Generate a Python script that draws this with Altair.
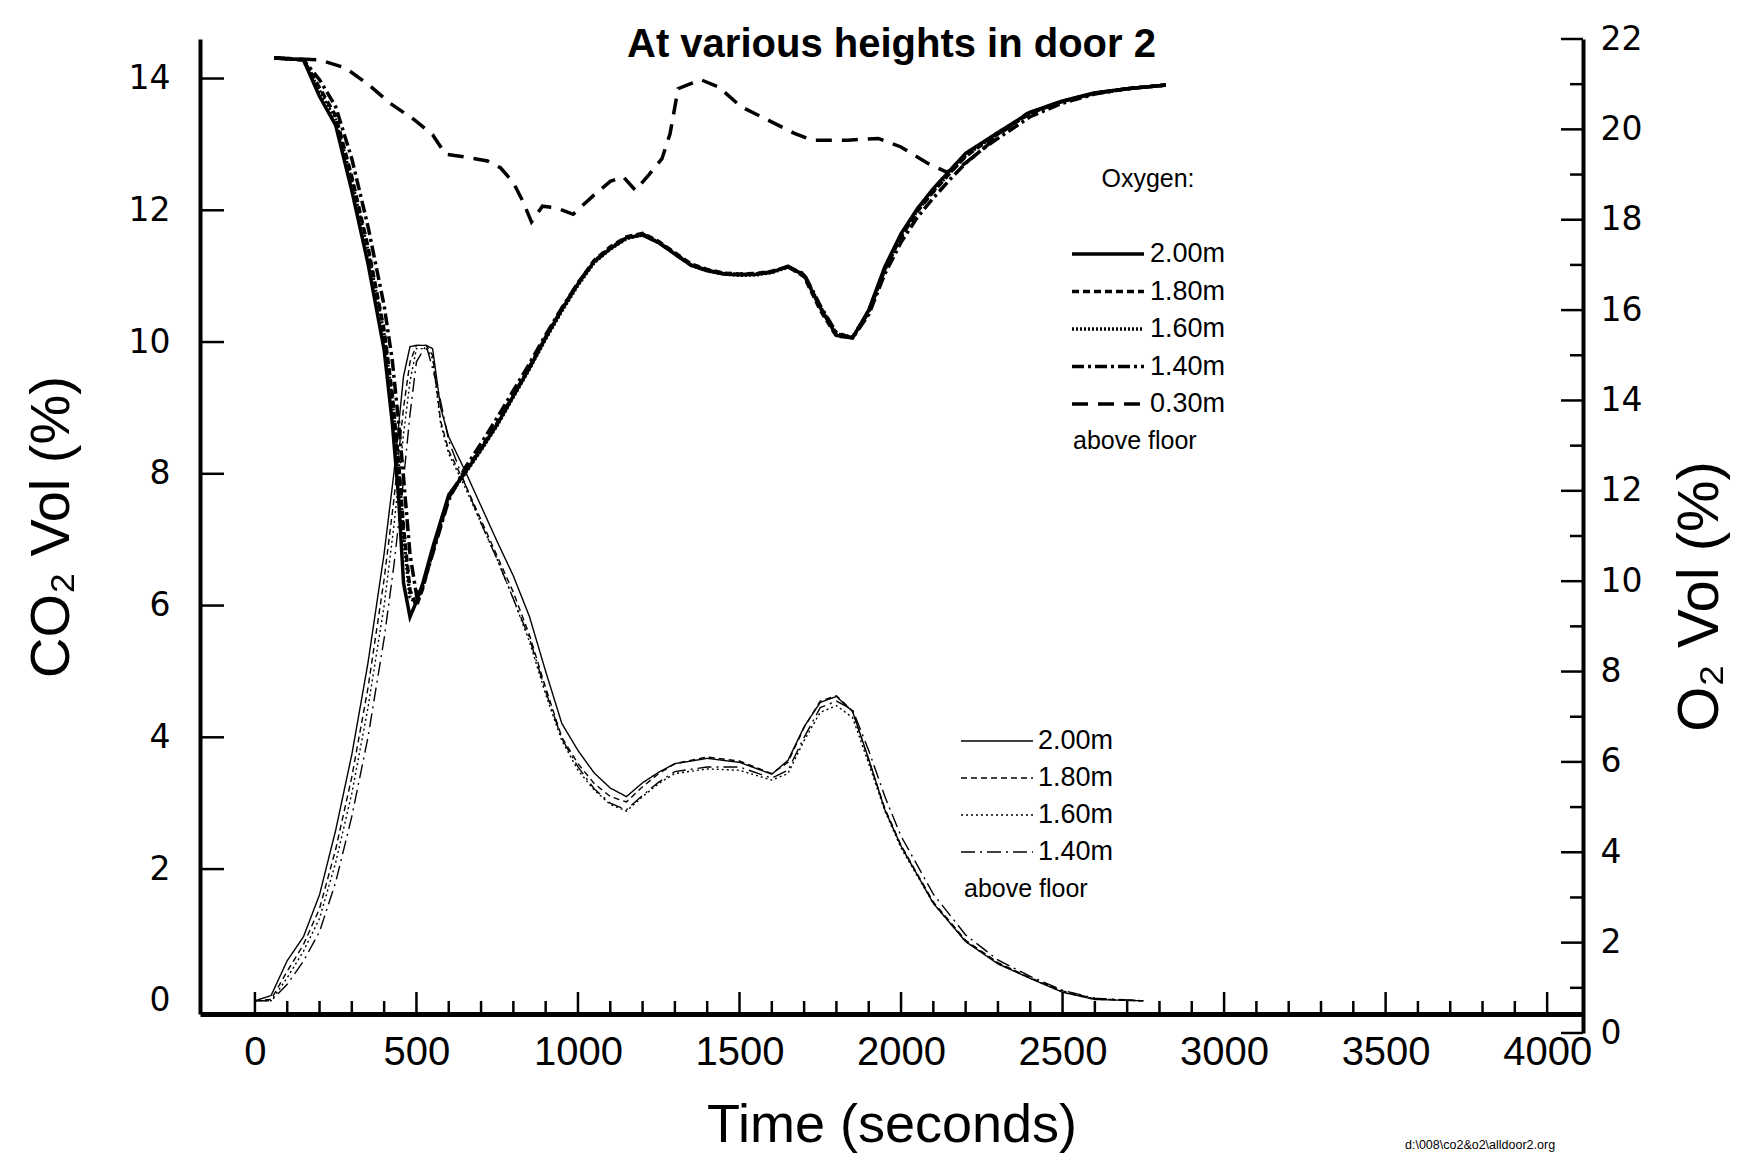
import altair as alt
import pandas as pd

# ---------------- data ----------------
# Oxygen, common time grid for the four upper heights (seconds)
o2_t = [60, 150, 200, 250, 300, 350, 400, 425, 445, 460, 480, 500, 520, 550,
        600, 650, 700, 750, 800, 850, 900, 950, 1000, 1050, 1100, 1150, 1200,
        1250, 1300, 1350, 1400, 1450, 1500, 1550, 1600, 1650, 1700, 1750, 1800,
        1850, 1900, 1950, 2000, 2050, 2100, 2150, 2200, 2250, 2300, 2400, 2500,
        2600, 2700, 2820]
o2_200 = [21.58, 21.54, 20.73, 20.09, 18.64, 17.03, 15.12, 13.52, 11.83, 9.96,
          9.21, 9.55, 9.96, 10.74, 11.91, 12.40, 12.92, 13.47, 14.10, 14.72,
          15.39, 16.01, 16.58, 17.07, 17.36, 17.60, 17.66, 17.49, 17.24, 16.99,
          16.87, 16.80, 16.78, 16.79, 16.84, 16.97, 16.77, 16.05, 15.44, 15.38,
          16.00, 16.96, 17.69, 18.24, 18.69, 19.08, 19.47, 19.70, 19.93, 20.38,
          20.63, 20.81, 20.90, 20.98]
o2_180 = [21.58, 21.54, 20.92, 20.30, 18.95, 17.40, 15.55, 14.15, 12.60, 11.20,
          9.80, 9.45, 9.85, 10.65, 11.85, 12.42, 12.95, 13.50, 14.12, 14.75,
          15.40, 16.02, 16.60, 17.10, 17.40, 17.62, 17.70, 17.52, 17.27, 17.02,
          16.90, 16.82, 16.80, 16.81, 16.86, 16.96, 16.74, 16.00, 15.42, 15.40,
          15.95, 16.90, 17.62, 18.18, 18.62, 19.02, 19.40, 19.66, 19.90, 20.36,
          20.62, 20.80, 20.90, 20.98]
o2_160 = [21.58, 21.54, 20.85, 20.20, 18.85, 17.30, 15.45, 14.00, 12.50, 11.00,
          9.65, 9.50, 9.90, 10.70, 11.88, 12.38, 12.90, 13.45, 14.08, 14.70,
          15.36, 15.98, 16.55, 17.05, 17.35, 17.58, 17.68, 17.50, 17.25, 17.00,
          16.88, 16.80, 16.77, 16.78, 16.83, 16.95, 16.78, 16.08, 15.47, 15.40,
          15.98, 16.92, 17.64, 18.20, 18.64, 19.03, 19.42, 19.67, 19.90, 20.36,
          20.62, 20.80, 20.90, 20.98]
o2_140 = [21.58, 21.54, 21.10, 20.50, 19.35, 17.85, 16.10, 14.90, 13.50, 12.30,
          10.60, 9.70, 9.90, 10.60, 11.80, 12.50, 13.05, 13.62, 14.22, 14.82,
          15.45, 16.05, 16.60, 17.08, 17.38, 17.60, 17.68, 17.50, 17.24, 17.00,
          16.88, 16.81, 16.79, 16.80, 16.85, 16.96, 16.80, 16.10, 15.50, 15.38,
          15.90, 16.80, 17.50, 18.05, 18.48, 18.88, 19.25, 19.55, 19.80, 20.28,
          20.58, 20.78, 20.90, 20.98]
# Oxygen 0.30 m above floor (own time base)
o2_030_t = [60, 200, 280, 350, 420, 490, 550, 590, 640, 720, 760, 800, 830, 856,
            890, 935, 985, 1050, 1100, 1140, 1178, 1220, 1260, 1285, 1310, 1345,
            1380, 1435, 1505, 1590, 1670, 1725, 1835, 1930, 2000, 2085, 2140,
            2180, 2250, 2320, 2390, 2500, 2600, 2700, 2820]
o2_030 = [21.58, 21.54, 21.36, 21.00, 20.57, 20.23, 19.88, 19.45, 19.40, 19.30,
          19.15, 18.82, 18.40, 17.95, 18.30, 18.26, 18.12, 18.55, 18.85, 18.95,
          18.65, 19.00, 19.35, 19.90, 20.90, 21.00, 21.10, 20.94, 20.50, 20.20,
          19.91, 19.76, 19.76, 19.80, 19.61, 19.24, 19.06, 19.15, 19.54, 19.98,
          20.35, 20.62, 20.80, 20.90, 20.98]

# Carbon dioxide, common time grid (seconds)
co2_t = [0, 50, 100, 150, 200, 250, 300, 350, 400, 430, 460, 480, 500, 530, 550,
         575, 600, 650, 700, 750, 800, 850, 900, 950, 1000, 1050, 1100, 1150,
         1200, 1250, 1300, 1400, 1500, 1600, 1650, 1700, 1750, 1800, 1850, 1900,
         1950, 2000, 2100, 2200, 2300, 2400, 2500, 2600, 2750]
co2_200 = [0, 0.08, 0.61, 0.97, 1.61, 2.59, 3.74, 5.13, 6.79, 8.00, 9.48, 9.93,
           9.95, 9.95, 9.90, 9.00, 8.56, 8.05, 7.51, 6.97, 6.45, 5.83, 5.00, 4.21,
           3.80, 3.46, 3.23, 3.10, 3.31, 3.47, 3.60, 3.68, 3.62, 3.44, 3.65, 4.16,
           4.53, 4.62, 4.39, 3.67, 2.90, 2.35, 1.48, 0.90, 0.56, 0.34, 0.13, 0.02, 0]
co2_180 = [0, 0.02, 0.45, 0.85, 1.40, 2.30, 3.40, 4.75, 6.40, 7.60, 9.00, 9.70,
           9.95, 9.95, 9.80, 8.80, 8.35, 7.85, 7.30, 6.75, 6.20, 5.55, 4.75, 4.00,
           3.60, 3.30, 3.10, 3.02, 3.25, 3.45, 3.60, 3.70, 3.64, 3.45, 3.62, 4.15,
           4.55, 4.63, 4.40, 3.65, 2.92, 2.36, 1.50, 0.92, 0.58, 0.35, 0.15, 0.03, 0]
co2_160 = [0, 0, 0.35, 0.75, 1.25, 2.10, 3.15, 4.45, 6.00, 7.20, 8.60, 9.40,
           9.90, 9.90, 9.75, 8.75, 8.30, 7.80, 7.25, 6.70, 6.10, 5.45, 4.65, 3.95,
           3.50, 3.20, 2.98, 2.88, 3.10, 3.30, 3.45, 3.52, 3.50, 3.35, 3.45, 3.95,
           4.38, 4.48, 4.30, 3.60, 2.88, 2.32, 1.48, 0.90, 0.57, 0.34, 0.14, 0.03, 0]
co2_140 = [0, 0, 0.25, 0.60, 1.05, 1.80, 2.80, 4.00, 5.50, 6.60, 7.90, 8.90,
           9.70, 9.95, 9.60, 9.10, 8.50, 7.85, 7.25, 6.70, 6.10, 5.50, 4.70, 3.98,
           3.55, 3.22, 3.00, 2.90, 3.12, 3.32, 3.48, 3.55, 3.55, 3.38, 3.50, 4.00,
           4.45, 4.55, 4.42, 3.80, 3.10, 2.50, 1.62, 1.00, 0.62, 0.37, 0.16, 0.04, 0]

o2_series = ["2.00m", "1.80m", "1.60m", "1.40m", "0.30m"]
co2_series = ["2.00m", "1.80m", "1.60m", "1.40m"]

x_major_ticks = [0, 500, 1000, 1500, 2000, 2500, 3000, 3500, 4000]
x_minor_ticks = [t for t in range(100, 4000, 100) if t % 500 != 0]
o2_major_ticks = [0, 2, 4, 6, 8, 10, 12, 14, 16, 18, 20, 22]
o2_minor_ticks = [1, 3, 5, 7, 9, 11, 13, 15, 17, 19, 21]
co2_ticks = [2, 4, 6, 8, 10, 12, 14]
co2_labels = [0, 2, 4, 6, 8, 10, 12, 14]

title_text = "At various heights in door 2"
note_text = "d:\\008\\co2&o2\\alldoor2.org"
floor_text = "above floor"

# ---------------- tables ----------------
o2_df = pd.concat(
    [pd.DataFrame({"t": o2_t, "v": vals, "series": name})
     for name, vals in zip(o2_series[:4], [o2_200, o2_180, o2_160, o2_140])]
    + [pd.DataFrame({"t": o2_030_t, "v": o2_030, "series": o2_series[4]})],
    ignore_index=True)
co2_df = pd.concat(
    [pd.DataFrame({"t": co2_t, "v": vals, "series": name})
     for name, vals in zip(co2_series, [co2_200, co2_180, co2_160, co2_140])],
    ignore_index=True)

W, H = 1383, 975
FONT = "Liberation Sans"
NUMFONT = "DejaVu Sans"

x_enc = alt.X(
    "t:Q",
    scale=alt.Scale(domain=[-170, 4111], nice=False, zero=False),
    axis=alt.Axis(values=x_major_ticks, format="d", title="Time (seconds)",
                  titleFont=FONT, titleFontSize=54, titleFontWeight="normal",
                  titleColor="black", titlePadding=26,
                  labelFont=FONT, labelFontSize=40, labelColor="black",
                  labelPadding=18, ticks=False, tickSize=0,
                  domainColor="black", domainWidth=5, grid=False,
                  labelFlush=False),
)
y_co2 = alt.Y(
    "v:Q",
    scale=alt.Scale(domain=[-0.2, 14.6], nice=False, zero=False),
    axis=alt.Axis(orient="left", values=co2_labels, title="CO₂ Vol (%)",
                  titleFont=FONT, titleFontSize=56, titleFontWeight="normal",
                  titleColor="black", titlePadding=48,
                  labelFont=NUMFONT, labelFontSize=33, labelColor="black",
                  labelPadding=30, ticks=False, tickSize=0,
                  domainColor="black", domainWidth=4, grid=False),
)
y_o2 = alt.Y(
    "v:Q",
    scale=alt.Scale(domain=[0, 22], range=[994, 0], nice=False, zero=False),
    axis=alt.Axis(orient="right", values=o2_major_ticks, title="O₂ Vol (%)",
                  titleFont=FONT, titleFontSize=58, titleFontWeight="normal",
                  titleColor="black", titlePadding=30, titleAngle=270,
                  titleBaseline="top", titleY=557,
                  labelFont=NUMFONT, labelFontSize=33, labelColor="black",
                  labelPadding=17, ticks=False, tickSize=0,
                  domainColor="black", domainWidth=4, grid=False),
)

co2_lines = alt.Chart(co2_df).mark_line(color="black", strokeWidth=1.4).encode(
    x=x_enc, y=y_co2,
    strokeDash=alt.StrokeDash(
        "series:N",
        scale=alt.Scale(domain=co2_series,
                        range=[[1, 0], [6, 4], [2, 3], [14, 5, 2, 5]]),
        legend=alt.Legend(title=None, orient="none", legendX=760, legendY=688,
                          direction="vertical", symbolType="stroke",
                          symbolSize=5184, symbolStrokeWidth=1.4,
                          symbolStrokeColor="black", clipHeight=28,
                          rowPadding=9, padding=0, labelFont=FONT,
                          labelFontSize=27, labelColor="black", labelOffset=4),
    ),
)
co2_tick_marks = alt.Chart(pd.DataFrame({"v": co2_ticks})).mark_rule(
    color="black", strokeWidth=2.5).encode(
    y=y_co2, x=alt.value(0), x2=alt.value(24))
co2_layer = alt.layer(co2_lines, co2_tick_marks)

o2_lines = alt.Chart(o2_df).mark_line(color="black", strokeWidth=3.5).encode(
    x=x_enc, y=y_o2,
    strokeDash=alt.StrokeDash(
        "series:N",
        scale=alt.Scale(domain=o2_series,
                        range=[[1, 0], [7, 4], [2, 2], [12, 4, 3, 4], [16, 10]]),
        legend=alt.Legend(title="Oxygen:", orient="none", legendX=870,
                          legendY=128, direction="vertical", symbolType="stroke",
                          symbolSize=5184, symbolStrokeWidth=3.5,
                          symbolStrokeColor="black", clipHeight=28,
                          rowPadding=9.5, padding=0, labelFont=FONT,
                          labelFontSize=27, labelColor="black", labelOffset=4,
                          titleFont=FONT, titleFontSize=25,
                          titleFontWeight="normal", titleColor="black",
                          titleAnchor="middle", titlePadding=48),
    ),
)
o2_tick_major = alt.Chart(pd.DataFrame({"v": o2_major_ticks})).mark_rule(
    color="black", strokeWidth=2.5).encode(
    y=y_o2, x=alt.value(W), x2=alt.value(W - 22))
o2_tick_minor = alt.Chart(pd.DataFrame({"v": o2_minor_ticks})).mark_rule(
    color="black", strokeWidth=2.5).encode(
    y=y_o2, x=alt.value(W), x2=alt.value(W - 13))
o2_layer = alt.layer(o2_lines, o2_tick_major, o2_tick_minor)

x_tick_major = alt.Chart(pd.DataFrame({"t": x_major_ticks})).mark_rule(
    color="black", strokeWidth=2.5).encode(
    x=x_enc, y=alt.value(H), y2=alt.value(H - 22))
x_tick_minor = alt.Chart(pd.DataFrame({"t": x_minor_ticks})).mark_rule(
    color="black", strokeWidth=2.5).encode(
    x=x_enc, y=alt.value(H), y2=alt.value(H - 13))

one = pd.DataFrame({"k": [0]})
txt_o2 = alt.Chart(one).mark_text(align="left", baseline="middle", font=FONT,
                                  fontSize=25, color="black").encode(
    x=alt.value(873), y=alt.value(402), text=alt.value(floor_text))
txt_co2 = alt.Chart(one).mark_text(align="left", baseline="middle", font=FONT,
                                   fontSize=25, color="black").encode(
    x=alt.value(764), y=alt.value(850), text=alt.value(floor_text))
txt_note = alt.Chart(one).mark_text(align="left", baseline="middle", font=FONT,
                                    fontSize=12.5, color="black").encode(
    x=alt.value(1205), y=alt.value(1106), text=alt.value(note_text))

chart = (
    alt.layer(co2_layer, o2_layer, x_tick_major, x_tick_minor,
              txt_o2, txt_co2, txt_note)
    .resolve_scale(y="independent", strokeDash="independent")
    .properties(
        width=W, height=H,
        title=alt.TitleParams(text=title_text, font=FONT, fontSize=40,
                              fontWeight="bold", color="black",
                              anchor="middle", offset=-22, dy=20),
        padding={"left": 192, "top": 31, "right": 151, "bottom": 139},
        autosize=alt.AutoSizeParams(type="none"),
        background="white",
    )
    .configure_view(stroke="transparent")
)

chart.save("out.html", embed_options={"renderer": "svg", "actions": False})
